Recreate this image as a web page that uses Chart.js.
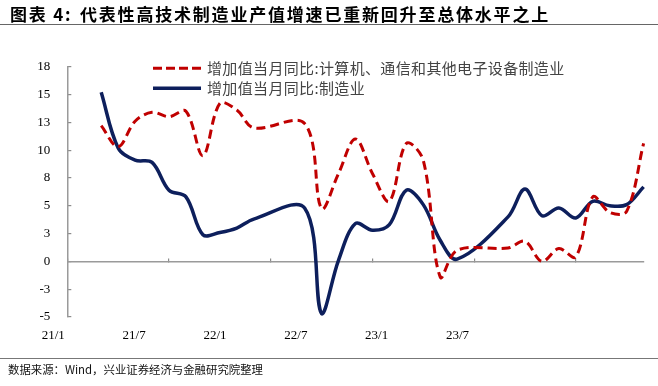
<!DOCTYPE html>
<html>
<head>
<meta charset="utf-8">
<script src="https://cdn.jsdelivr.net/npm/chart.js@4.4.0/dist/chart.umd.min.js"></script>
<style>
html, body { margin: 0; padding: 0; background: #fff; }
#wrap { position: relative; width: 658px; height: 386px; overflow: hidden; }
#chart { position: absolute; left: 0; top: 0; }
.t { position: absolute; white-space: nowrap; font-family: "Noto Sans CJK SC", sans-serif; }
.title { top: 5px; font-size: 17px; line-height: 17px; font-weight: 700; letter-spacing: 1.8px; color: #000; }
.rule { position: absolute; left: 0; width: 658px; background: #666; }
.leg { font-size: 15px; line-height: 20px; color: #444; left: 207px; letter-spacing: 0.35px; }
.src { left: 8px; top: 362px; font-size: 11.4px; line-height: 15px; color: #111; }
</style>
</head>
<body>
<div id="wrap">
  <canvas id="chart" width="658" height="386"></canvas>
  <div class="t title" style="left:10px">图表 4:</div>
  <div class="t title" style="left:80px">代表性高技术制造业产值增速已重新回升至总体水平之上</div>
  <div class="rule" style="top:23.5px;height:1.5px"></div>
  <svg style="position:absolute;left:0;top:0" width="658" height="120">
    <line x1="153" y1="68.3" x2="201" y2="68.3" stroke="#C00000" stroke-width="3" stroke-dasharray="9,4"/>
    <line x1="153" y1="88.3" x2="201" y2="88.3" stroke="#0D1F5C" stroke-width="3.5"/>
  </svg>
  <div class="t leg" id="leg0" style="top:58px"></div>
  <div class="t leg" id="leg1" style="top:78px"></div>
  <div class="rule" style="top:358px;height:1px;background:#777"></div>
  <div class="t src">数据来源：Wind，兴业证券经济与金融研究院整理</div>
</div>
<script>
const months = ['21/1','21/2','21/3','21/4','21/5','21/6','21/7','21/8','21/9','21/10','21/11','21/12',
                '22/1','22/2','22/3','22/4','22/5','22/6','22/7','22/8','22/9','22/10','22/11','22/12',
                '23/1','23/2','23/3','23/4','23/5','23/6','23/7','23/8','23/9','23/10','23/11'];
const seriesNames = ['增加值当月同比:计算机、通信和其他电子设备制造业', '增加值当月同比:制造业'];
const electronics = [null, null, 12.2, 10.3, 12.6, 13.4, 13.0, 13.5, 9.5, 14.2, 13.6, 12.0,
                     null, null, 12.4, 4.75, 7.9, 11.0, 7.9, 5.4, 10.6, 9.1, -1.4, 1.0,
                     null, null, 1.2, 1.8, 0.0, 1.15, 0.4, 5.8, 4.4, 4.5, 10.6];
const manufacturing = [null, null, 15.2, 10.2, 9.1, 8.9, 6.4, 5.8, 2.4, 2.6, 3.0, 3.8,
                       null, null, 4.8, -4.7, 0.1, 3.4, 2.8, 3.3, 6.4, 5.1, 1.9, 0.2,
                       null, null, 4.0, 6.5, 4.1, 4.8, 3.9, 5.4, 5.0, 5.1, 6.7];
const xTickLabels = ['21/1', '21/7', '22/1', '22/7', '23/1', '23/7'];
const yTicks = [-5, -2.5, 0, 2.5, 5, 7.5, 10, 12.5, 15, 17.5];
const yTickLabels = ['-5', '-3', '0', '3', '5', '8', '10', '13', '15', '18'];

document.getElementById('leg0').textContent = seriesNames[0];
document.getElementById('leg1').textContent = seriesNames[1];

Chart.defaults.font.family = '"Liberation Serif", serif';

const ctx = document.getElementById('chart').getContext('2d');
const myChart = new Chart(ctx, {
    type: 'line',
    data: {
        labels: months,
        datasets: [{
            label: seriesNames[0],
            data: electronics,
            borderColor: '#C00000',
            borderWidth: 3,
            borderDash: [9, 5],
            pointRadius: 0,
            tension: 0.35,
            spanGaps: true
        }, {
            label: seriesNames[1],
            data: manufacturing,
            borderColor: '#0D1F5C',
            borderWidth: 3.5,
            pointRadius: 0,
            tension: 0.35,
            spanGaps: true
        }]
    },
    options: {
        responsive: false,
        animation: false,
        events: [],
        layout: { padding: { left: 0, right: 14.4, top: 66.7, bottom: 39 } },
        plugins: { legend: { display: false }, tooltip: { enabled: false } },
        scales: {
            x: {
                type: 'category',
                position: { y: 0 },
                offset: false,
                grid: {
                    drawOnChartArea: false,
                    tickLength: -4,
                    lineWidth: 1.2,
                    color: (c) => (c.index % 6 === 0 ? '#8c8c8c' : 'rgba(0,0,0,0)')
                },
                border: { color: '#9a9a9a', width: 1.5 },
                ticks: { display: false, autoSkip: false }
            },
            x2: {
                type: 'linear',
                axis: 'x',
                position: 'bottom',
                min: -0.198,
                max: 6.931,
                grid: { display: false, drawTicks: false },
                border: { display: false },
                afterBuildTicks: (s) => { s.ticks = xTickLabels.map((_, i) => ({ value: i })); },
                afterFit: (s) => { s.height = 30; },
                ticks: {
                    autoSkip: false,
                    maxRotation: 0,
                    labelOffset: -30,
                    padding: 11,
                    color: '#000',
                    font: { size: 13 },
                    callback: (v, i) => xTickLabels[i]
                }
            },
            y: {
                min: -5,
                max: 17.5,
                grid: { drawOnChartArea: false, tickLength: -4, color: '#8c8c8c', lineWidth: 1.2 },
                border: { color: '#9a9a9a', width: 1.5 },
                afterBuildTicks: (s) => { s.ticks = yTicks.map((v) => ({ value: v })); },
                afterFit: (s) => { s.width = 67.3; },
                ticks: {
                    padding: 21,
                    color: '#000',
                    font: { size: 13 },
                    callback: (v, i) => yTickLabels[i]
                }
            }
        }
    }
});
</script>
</body>
</html>
